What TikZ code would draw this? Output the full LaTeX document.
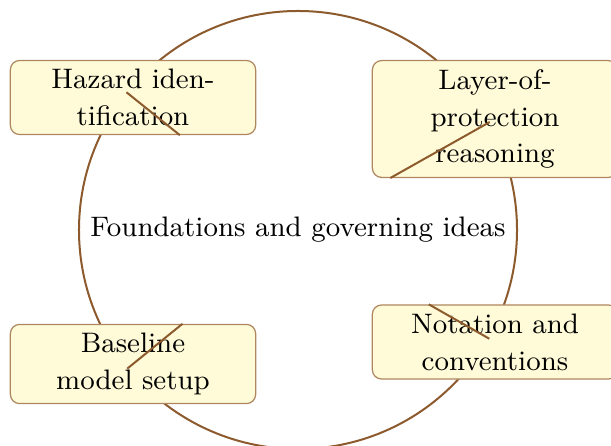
\documentclass[tikz,border=0pt]{standalone}
\usetikzlibrary{shapes.geometric}
\definecolor{linebrown}{RGB}{140,90,45}
\definecolor{boxborder}{RGB}{175,135,95}
\definecolor{boxfill}{RGB}{255,251,216}
\tikzset{
  hub/.style={circle, draw=linebrown, line width=0.65pt, minimum size=5cm, inner sep=0pt, align=center},
  topicbox/.style={rectangle, rounded corners=3pt, draw=boxborder, line width=0.4pt, fill=boxfill,
    minimum width=2.8cm, text width=2.6cm, align=center, inner sep=2.8pt},
  spoke/.style={draw=linebrown, line width=0.65pt}
}
\begin{document}
\begin{tikzpicture}[x=0.32478pt, y=-0.32478pt, font=\fontsize{9.15}{12}\selectfont]
\useasboundingbox (0,0) rectangle (611,446);
\node[hub] (c) at (298,230) {Foundations and governing ideas};
\node[topicbox] (haz) at (133,97.5) {Hazard iden-\\tification};
\node[topicbox] (lop) at (495,119) {Layer-of-\\protection\\reasoning};
\node[topicbox] (base) at (133,364) {Baseline\\model setup};
\node[topicbox] (nota) at (495,342) {Notation and\\conventions};
\draw[spoke] (c) -- (haz);
\draw[spoke] (c) -- (lop);
\draw[spoke] (c) -- (base);
\draw[spoke] (c) -- (nota);
\end{tikzpicture}
\end{document}
